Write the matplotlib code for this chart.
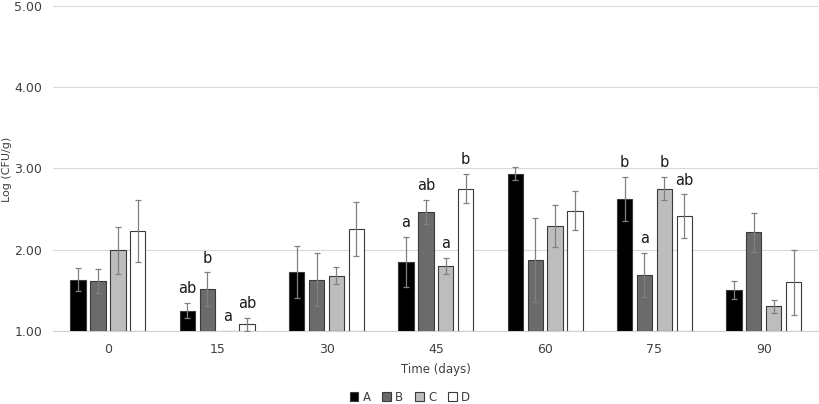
import numpy as np
import matplotlib.pyplot as plt

days = ['0', '15', '30', '45', '60', '75', '90']
series = ['A', 'B', 'C', 'D']

mean_A = [1.63, 1.25, 1.72, 1.85, 2.93, 2.62, 1.50]
mean_B = [1.61, 1.51, 1.63, 2.46, 1.87, 1.69, 2.21]
mean_C = [1.99, 1.00, 1.68, 1.80, 2.29, 2.75, 1.30]
mean_D = [2.23, 1.08, 2.25, 2.75, 2.48, 2.41, 1.60]

err_A = [0.14, 0.09, 0.32, 0.31, 0.08, 0.27, 0.11]
err_B = [0.15, 0.21, 0.33, 0.15, 0.52, 0.27, 0.24]
err_C = [0.29, 0.00, 0.10, 0.10, 0.26, 0.14, 0.08]
err_D = [0.38, 0.08, 0.33, 0.18, 0.24, 0.27, 0.40]

# significance letters (empty = none)
let_A = ['', 'ab', '', 'a', '', 'b', '']
let_B = ['', 'b', '', 'ab', '', 'a', '']
let_C = ['', 'a', '', 'a', '', 'b', '']
let_D = ['', 'ab', '', 'b', '', 'ab', '']

means = [mean_A, mean_B, mean_C, mean_D]
errs = [err_A, err_B, err_C, err_D]
letters = [let_A, let_B, let_C, let_D]
colors = ['#000000', '#6b6b6b', '#bdbdbd', '#ffffff']

fig = plt.figure(figsize=(8.2, 4.04), dpi=100)
ax = fig.add_axes([0.065, 0.181, 0.933, 0.805])

x = np.arange(len(days))
width = 0.14
step = 0.182

for i in range(4):
    xs = x + (i - 1.5) * step
    h = np.array(means[i]) - 1.0
    ax.bar(xs, h, width, bottom=1.0, color=colors[i],
           edgecolor='#3a3a3a', linewidth=0.8, zorder=3, label=series[i])
    e = np.array(errs[i])
    mask = e > 0
    ax.errorbar(xs[mask], np.array(means[i])[mask], yerr=e[mask], fmt='none',
                ecolor='#808080', elinewidth=0.9, capsize=2, capthick=0.9, zorder=4)
    for j in range(len(days)):
        if letters[i][j]:
            ax.text(xs[j], means[i][j] + errs[i][j] + 0.12, letters[i][j],
                    ha='center', va='baseline', fontsize=10.5, color='#1a1a1a')

ax.set_xlim(-0.5, 6.5)
ax.set_ylim(1, 5)
ax.set_yticks([1, 2, 3, 4, 5])
ax.set_yticklabels(['%.2f' % v for v in [1, 2, 3, 4, 5]])
ax.set_xticks(x)
ax.set_xticklabels(days)
ax.tick_params(axis='both', length=0, labelsize=9, colors='#404040')
ax.tick_params(axis='y', pad=8)
ax.tick_params(axis='x', pad=9)
ax.grid(axis='y', color='#d9d9d9', linewidth=0.8, zorder=0)
for s in ['top', 'right', 'left']:
    ax.spines[s].set_visible(False)
ax.spines['bottom'].set_color('#d0d0d0')
fig.text(0.008, 0.58, 'Log (CFU/g)', rotation=90, ha='center', va='center',
         fontsize=8, color='#404040')
ax.set_xlabel('Time (days)', fontsize=8.5, color='#404040', labelpad=5)

leg = fig.legend(*ax.get_legend_handles_labels(), loc='center',
                 bbox_to_anchor=(0.5, 0.017), ncol=4, frameon=False,
                 fontsize=8.5, handlelength=0.7, handleheight=0.7,
                 handletextpad=0.4, columnspacing=1.0)
for t in leg.get_texts():
    t.set_color('#404040')

fig.savefig('out.png', dpi=100)
